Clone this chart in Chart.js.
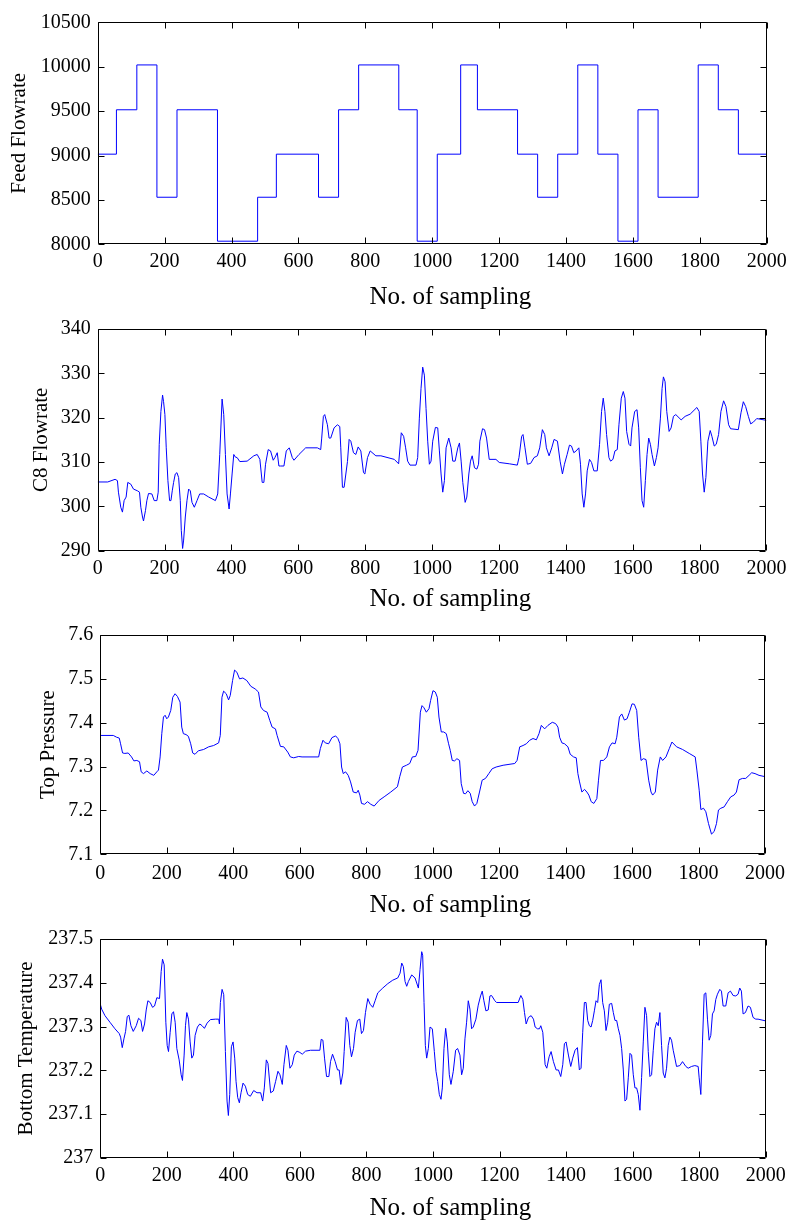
<!DOCTYPE html>
<html>
<head>
<meta charset="utf-8">
<script src="https://cdn.jsdelivr.net/npm/chart.js@4.4.0/dist/chart.umd.min.js"></script>
<style>
  body { margin: 0; background: #fff; }
  canvas { position: absolute; left: 0; }
</style>
</head>
<body>
<canvas id="feed" width="792" height="310" style="top:0px"></canvas>
<canvas id="c8" width="792" height="306" style="top:310px"></canvas>
<canvas id="pressure" width="792" height="304" style="top:616px"></canvas>
<canvas id="temp" width="792" height="301" style="top:920px"></canvas>
<script>
const sampleTicks = [0, 200, 400, 600, 800, 1000, 1200, 1400, 1600, 1800, 2000];
const feedTicks = [8000, 8500, 9000, 9500, 10000, 10500];
const c8Ticks = [290, 300, 310, 320, 330, 340];
const pressureTicks = [7.1, 7.2, 7.3, 7.4, 7.5, 7.6];
const tempTicks = [237, 237.1, 237.2, 237.3, 237.4, 237.5];

// feed flowrate is piecewise constant: sample where each level starts
const feedStart = [0, 56, 117, 177, 237, 358, 478, 534, 660, 720, 780, 900, 955, 1015, 1085, 1135, 1255, 1315, 1375, 1435, 1495, 1555, 1615, 1675, 1795, 1855, 1915];
const feedLevel = [9015, 9515, 10020, 8530, 9515, 8035, 8530, 9015, 8530, 9515, 10020, 9515, 8035, 9015, 10020, 9515, 9015, 8530, 9015, 10020, 9015, 8035, 9515, 8530, 10020, 9515, 9015];

const c8Flowrate = [[0,305.5],[30,305.5],[52,306.1],[59,305.8],[62,303.2],[69,299.8],[74,298.7],[79,301.3],[85,302.1],[90,305.4],[99,305.0],[107,303.9],[119,303.5],[125,303.2],[129,299.8],[134,297.6],[137,296.7],[143,299.1],[147,301.3],[152,302.9],[162,302.8],[169,301.3],[177,301.3],[181,303.2],[184,314.0],[189,321.4],[194,325.1],[197,323.6],[201,320.7],[205,313.2],[210,305.8],[215,301.3],[219,301.3],[223,303.5],[227,305.4],[232,307.3],[237,307.6],[242,306.5],[247,301.3],[250,294.6],[254,290.5],[257,292.4],[262,297.6],[267,301.3],[272,303.9],[277,303.5],[282,300.9],[289,299.8],[297,301.3],[305,302.8],[317,302.8],[332,302.1],[352,301.3],[359,302.8],[365,311.7],[372,324.2],[377,320.7],[382,311.7],[387,302.8],[393,299.4],[397,302.8],[402,307.3],[407,311.7],[412,311.1],[417,311.0],[425,310.1],[447,310.2],[467,311.4],[477,311.7],[485,310.6],[492,305.4],[497,305.4],[502,309.5],[510,312.8],[517,312.5],[525,310.4],[530,311.0],[537,312.1],[542,309.1],[547,309.1],[557,309.1],[564,312.5],[573,313.2],[582,311.0],[587,310.4],[602,311.7],[622,313.2],[657,313.2],[667,312.8],[670,315.4],[675,320.3],[679,320.7],[687,318.4],[692,315.4],[697,315.4],[707,317.7],[717,318.4],[724,318.0],[727,313.2],[732,304.3],[737,304.3],[747,310.1],[752,315.1],[757,314.7],[765,312.1],[772,311.7],[779,313.4],[787,312.5],[795,307.6],[799,307.3],[807,311.0],[815,312.5],[832,311.4],[847,311.4],[887,310.6],[900,309.6],[908,316.6],[915,315.8],[921,313.2],[927,310.2],[934,309.3],[952,309.3],[957,311.0],[962,319.9],[967,326.6],[972,331.4],[977,329.6],[982,322.1],[987,314.7],[992,309.5],[997,310.2],[1002,314.7],[1010,317.8],[1017,317.7],[1022,312.5],[1027,307.3],[1032,303.2],[1037,305.8],[1042,313.2],[1050,315.4],[1057,313.2],[1062,310.2],[1069,310.2],[1077,313.2],[1082,314.3],[1087,310.2],[1092,305.4],[1099,300.9],[1104,302.1],[1110,307.3],[1115,310.2],[1120,311.4],[1127,308.7],[1134,308.4],[1139,309.5],[1143,314.7],[1151,317.5],[1157,317.3],[1163,315.4],[1171,310.6],[1191,310.6],[1201,309.9],[1231,309.6],[1255,309.3],[1260,311.0],[1268,315.8],[1272,316.2],[1278,313.2],[1285,309.5],[1295,309.7],[1305,311.0],[1315,311.4],[1322,313.2],[1330,317.3],[1337,316.2],[1342,313.2],[1350,311.4],[1358,313.2],[1365,315.1],[1375,314.7],[1383,310.2],[1390,307.3],[1396,309.5],[1404,311.7],[1411,313.8],[1417,313.6],[1424,312.1],[1431,312.5],[1439,313.2],[1444,309.5],[1449,302.8],[1454,299.8],[1459,302.8],[1464,308.0],[1471,310.6],[1477,309.9],[1484,308.0],[1494,308.0],[1501,314.0],[1507,321.4],[1512,324.4],[1517,321.4],[1522,316.2],[1529,311.0],[1534,310.2],[1541,310.6],[1547,312.5],[1554,312.8],[1559,318.4],[1566,324.4],[1572,325.9],[1577,324.4],[1582,316.9],[1589,314.0],[1594,313.6],[1598,317.7],[1606,321.4],[1613,321.8],[1618,317.7],[1623,308.7],[1628,301.3],[1633,299.8],[1638,305.8],[1643,311.7],[1648,315.4],[1653,314.0],[1658,311.7],[1665,309.1],[1671,311.0],[1676,313.2],[1683,319.9],[1688,326.6],[1692,329.2],[1697,328.1],[1702,321.4],[1709,316.9],[1715,317.7],[1722,320.3],[1729,320.7],[1745,319.5],[1757,320.3],[1772,320.8],[1792,322.3],[1799,321.4],[1804,314.7],[1809,307.3],[1814,303.2],[1819,306.5],[1825,314.7],[1832,317.1],[1837,315.8],[1844,313.6],[1850,314.0],[1857,316.2],[1864,321.4],[1872,323.8],[1879,322.5],[1887,318.4],[1893,317.5],[1916,317.3],[1924,321.1],[1931,323.6],[1938,322.5],[1946,320.3],[1953,318.6],[1961,319.0],[1971,319.8],[2000,319.4]];

const topPressure = [[0,7.371],[39,7.371],[49,7.367],[57,7.365],[61,7.352],[67,7.331],[74,7.330],[84,7.331],[94,7.322],[101,7.313],[110,7.314],[118,7.311],[123,7.288],[130,7.284],[140,7.290],[150,7.284],[161,7.280],[170,7.288],[175,7.292],[180,7.322],[185,7.375],[190,7.413],[195,7.417],[200,7.409],[205,7.413],[212,7.428],[218,7.458],[225,7.466],[232,7.460],[240,7.447],[245,7.390],[250,7.375],[258,7.373],[265,7.369],[272,7.352],[278,7.331],[285,7.328],[295,7.336],[311,7.339],[326,7.345],[341,7.348],[356,7.354],[361,7.371],[366,7.458],[371,7.472],[379,7.466],[386,7.452],[391,7.462],[398,7.496],[404,7.520],[411,7.515],[419,7.500],[429,7.502],[441,7.496],[453,7.483],[466,7.477],[476,7.470],[483,7.436],[491,7.428],[502,7.424],[510,7.405],[517,7.390],[527,7.386],[532,7.371],[542,7.346],[552,7.345],[564,7.333],[572,7.322],[582,7.320],[597,7.323],[607,7.322],[657,7.322],[662,7.341],[670,7.360],[677,7.354],[687,7.352],[697,7.366],[708,7.370],[715,7.364],[721,7.352],[726,7.299],[731,7.284],[738,7.288],[746,7.280],[753,7.265],[761,7.242],[771,7.240],[776,7.246],[781,7.235],[786,7.216],[795,7.214],[804,7.220],[814,7.214],[824,7.210],[839,7.223],[854,7.231],[874,7.242],[894,7.254],[901,7.277],[909,7.299],[921,7.303],[931,7.307],[939,7.322],[949,7.323],[956,7.337],[963,7.424],[968,7.439],[974,7.434],[981,7.424],[989,7.432],[994,7.451],[1001,7.473],[1008,7.470],[1014,7.458],[1019,7.413],[1026,7.379],[1033,7.379],[1041,7.375],[1048,7.352],[1053,7.337],[1059,7.314],[1066,7.313],[1073,7.318],[1081,7.314],[1086,7.261],[1093,7.239],[1099,7.238],[1106,7.245],[1113,7.239],[1119,7.220],[1126,7.210],[1133,7.216],[1141,7.242],[1149,7.269],[1159,7.273],[1169,7.284],[1179,7.295],[1191,7.299],[1212,7.303],[1247,7.307],[1254,7.314],[1262,7.345],[1272,7.348],[1282,7.352],[1292,7.360],[1302,7.364],[1312,7.361],[1320,7.375],[1327,7.394],[1337,7.386],[1347,7.394],[1360,7.401],[1370,7.398],[1377,7.390],[1382,7.367],[1389,7.354],[1397,7.352],[1407,7.345],[1414,7.328],[1424,7.322],[1432,7.320],[1437,7.284],[1442,7.265],[1449,7.242],[1457,7.248],[1464,7.242],[1470,7.235],[1477,7.220],[1485,7.216],[1494,7.227],[1499,7.269],[1505,7.314],[1514,7.314],[1524,7.322],[1532,7.345],[1540,7.354],[1549,7.352],[1554,7.367],[1562,7.413],[1569,7.420],[1577,7.406],[1585,7.409],[1592,7.424],[1600,7.443],[1607,7.442],[1614,7.428],[1620,7.367],[1627,7.314],[1634,7.318],[1642,7.316],[1650,7.269],[1657,7.242],[1662,7.235],[1670,7.242],[1677,7.292],[1685,7.322],[1692,7.314],[1702,7.322],[1712,7.341],[1720,7.356],[1734,7.345],[1752,7.339],[1772,7.330],[1790,7.322],[1795,7.292],[1802,7.246],[1807,7.202],[1815,7.205],[1822,7.197],[1830,7.170],[1839,7.146],[1847,7.152],[1854,7.170],[1860,7.201],[1867,7.205],[1877,7.208],[1887,7.220],[1897,7.231],[1907,7.235],[1914,7.242],[1922,7.270],[1932,7.273],[1942,7.273],[1952,7.280],[1960,7.286],[1970,7.284],[1982,7.280],[2000,7.277]];

const bottomTemp = [[0,237.351],[4,237.340],[14,237.325],[29,237.310],[44,237.295],[57,237.284],[61,237.276],[66,237.252],[71,237.272],[76,237.289],[81,237.323],[86,237.326],[92,237.302],[99,237.289],[108,237.302],[115,237.319],[122,237.314],[127,237.289],[133,237.306],[138,237.338],[143,237.359],[150,237.355],[157,237.344],[163,237.347],[170,237.366],[178,237.364],[183,237.426],[187,237.454],[192,237.441],[197,237.310],[201,237.257],[205,237.243],[210,237.287],[215,237.329],[220,237.334],[225,237.310],[230,237.250],[237,237.224],[243,237.190],[247,237.177],[252,237.235],[256,237.302],[260,237.332],[265,237.317],[270,237.265],[275,237.228],[280,237.235],[285,237.280],[292,237.299],[299,237.306],[306,237.302],[313,237.296],[321,237.308],[331,237.316],[346,237.317],[356,237.317],[358,237.306],[361,237.355],[366,237.385],[371,237.373],[376,237.243],[381,237.130],[385,237.097],[389,237.145],[394,237.254],[399,237.265],[404,237.228],[408,237.175],[413,237.138],[418,237.126],[423,237.149],[429,237.171],[436,237.164],[443,237.145],[451,237.141],[461,237.154],[471,237.149],[482,237.149],[488,237.130],[493,237.160],[499,237.224],[504,237.216],[512,237.149],[520,237.153],[527,237.175],[534,237.198],[540,237.190],[547,237.168],[552,237.213],[559,237.257],[564,237.246],[570,237.205],[577,237.213],[583,237.235],[591,237.244],[600,237.241],[607,237.237],[617,237.244],[632,237.246],[660,237.246],[664,237.271],[669,237.269],[674,237.228],[680,237.186],[687,237.186],[692,237.220],[698,237.237],[706,237.220],[713,237.201],[718,237.201],[723,237.168],[729,237.194],[733,237.243],[739,237.321],[745,237.310],[750,237.257],[755,237.231],[761,237.250],[766,237.287],[773,237.314],[780,237.317],[785,237.284],[791,237.291],[797,237.332],[804,237.364],[811,237.351],[819,237.344],[826,237.359],[834,237.377],[849,237.388],[864,237.398],[879,237.406],[894,237.411],[901,237.422],[906,237.445],[911,237.437],[916,237.403],[921,237.392],[926,237.403],[936,237.418],[946,237.411],[956,237.388],[961,237.430],[966,237.471],[969,237.463],[973,237.355],[977,237.257],[981,237.228],[986,237.250],[991,237.299],[998,237.295],[1004,237.243],[1009,237.198],[1014,237.175],[1019,237.145],[1024,237.134],[1028,237.160],[1033,237.250],[1038,237.296],[1043,237.265],[1049,237.190],[1054,237.168],[1061,237.198],[1068,237.246],[1074,237.250],[1081,237.235],[1086,237.190],[1091,237.205],[1096,237.272],[1101,237.310],[1106,237.359],[1111,237.340],[1116,237.295],[1121,237.299],[1129,237.317],[1136,237.349],[1143,237.370],[1148,237.381],[1153,237.359],[1159,237.336],[1166,237.338],[1171,237.370],[1176,237.371],[1186,237.359],[1191,237.355],[1256,237.355],[1264,237.371],[1270,237.362],[1275,237.332],[1280,237.306],[1287,237.321],[1295,237.325],[1302,237.317],[1307,237.299],[1314,237.295],[1320,237.295],[1324,237.302],[1330,237.287],[1337,237.213],[1342,237.205],[1349,237.231],[1355,237.243],[1362,237.220],[1370,237.201],[1377,237.201],[1384,237.186],[1390,237.213],[1395,237.261],[1400,237.265],[1407,237.235],[1414,237.209],[1420,237.228],[1427,237.246],[1434,237.252],[1440,237.201],[1445,237.205],[1450,237.287],[1455,237.355],[1460,237.355],[1465,237.314],[1470,237.302],[1475,237.299],[1480,237.314],[1485,237.336],[1490,237.359],[1495,237.355],[1500,237.396],[1505,237.407],[1510,237.355],[1515,237.336],[1520,237.291],[1525,237.310],[1530,237.351],[1537,237.353],[1542,237.332],[1547,237.314],[1552,237.314],[1557,237.295],[1562,237.280],[1567,237.250],[1572,237.201],[1577,237.130],[1582,237.134],[1587,237.183],[1592,237.239],[1597,237.235],[1602,237.190],[1607,237.160],[1612,237.160],[1617,237.145],[1622,237.109],[1627,237.184],[1632,237.265],[1637,237.344],[1642,237.325],[1647,237.243],[1652,237.186],[1657,237.190],[1662,237.246],[1667,237.295],[1672,237.310],[1677,237.302],[1682,237.332],[1687,237.257],[1692,237.194],[1697,237.183],[1702,237.205],[1707,237.257],[1712,237.276],[1717,237.269],[1722,237.246],[1727,237.228],[1732,237.209],[1742,237.211],[1750,237.220],[1760,237.209],[1767,237.205],[1777,237.209],[1787,237.211],[1797,237.209],[1800,237.183],[1805,237.145],[1810,237.265],[1815,237.374],[1820,237.377],[1825,237.317],[1830,237.269],[1835,237.280],[1840,237.329],[1845,237.336],[1850,237.362],[1855,237.374],[1862,237.385],[1867,237.381],[1872,237.347],[1880,237.347],[1887,237.377],[1894,237.381],[1902,237.371],[1910,237.370],[1917,237.374],[1922,237.388],[1927,237.381],[1932,237.329],[1939,237.332],[1947,237.347],[1954,237.344],[1962,237.321],[1970,237.317],[1977,237.317],[2000,237.313]];

Chart.defaults.font.family = '"Liberation Serif", "Times New Roman", serif';
Chart.defaults.color = '#000';

// matlab style box with inward ticks on all four sides, plus the x label
const matlabBox = {
  id: 'matlabBox',
  afterDraw(chart, args, opts) {
    const { ctx, chartArea: a, scales: { x, y } } = chart;
    const L = Math.round(a.left) + 0.5, R = Math.round(a.right) - 0.5;
    const T = Math.round(a.top) + 0.5, B = Math.round(a.bottom) - 0.5;
    ctx.save();
    ctx.strokeStyle = '#000';
    ctx.lineWidth = 1;
    ctx.beginPath();
    x.ticks.forEach((t) => {
      const px = Math.round(x.getPixelForValue(t.value)) + 0.5;
      ctx.moveTo(px, B); ctx.lineTo(px, B - 6);
      ctx.moveTo(px, T); ctx.lineTo(px, T + 6);
    });
    y.ticks.forEach((t) => {
      const py = Math.round(y.getPixelForValue(t.value)) + 0.5;
      ctx.moveTo(L, py); ctx.lineTo(L + 6, py);
      ctx.moveTo(R, py); ctx.lineTo(R - 6, py);
    });
    ctx.rect(L, T, R - L, B - T);
    ctx.stroke();
    ctx.fillStyle = '#000';
    ctx.font = '25px "Liberation Serif"';
    ctx.textAlign = 'center';
    ctx.textBaseline = 'alphabetic';
    ctx.fillText(opts.text, opts.x, opts.y);
    ctx.restore();
  },
};

function makePanel(id, p) {
  const canvas = document.getElementById(id);
  const h = canvas.height;
  return new Chart(canvas, {
    type: 'line',
    data: {
      datasets: [{
        data: p.points,
        borderColor: '#0000ff',
        borderWidth: 1,
        pointRadius: 0,
        fill: false,
        tension: 0,
        stepped: p.stepped || false,
      }],
    },
    options: {
      responsive: false,
      animation: false,
      layout: { padding: { top: p.area[1], right: 792 - p.area[2], left: 0, bottom: 0 } },
      plugins: {
        legend: { display: false },
        tooltip: { enabled: false },
        matlabBox: { text: 'No. of sampling', x: 450.3, y: p.xTitleY },
      },
      scales: {
        x: {
          type: 'linear',
          min: 0,
          max: 2000,
          afterBuildTicks: (s) => { s.ticks = sampleTicks.map((v) => ({ value: v })); },
          afterFit: (s) => { s.height = h - p.area[3]; },
          grid: { display: false, drawTicks: false },
          border: { display: false },
          ticks: { autoSkip: false, maxRotation: 0, padding: p.xTickPad, font: { size: 20 }, callback: (v) => String(v) },
        },
        y: {
          type: 'linear',
          min: p.ticks[0],
          max: p.ticks[p.ticks.length - 1],
          afterBuildTicks: (s) => { s.ticks = p.ticks.map((v) => ({ value: v })); },
          afterFit: (s) => { s.width = p.area[0]; },
          grid: { display: false, drawTicks: false },
          border: { display: false },
          ticks: { autoSkip: false, padding: 7, font: { size: 20 }, callback: (v) => String(v) },
          title: { display: true, text: p.yTitle, font: { size: 21 }, padding: { top: p.yTitlePad, bottom: 0 } },
        },
      },
    },
    plugins: [matlabBox],
  });
}

const feedPoints = feedStart.map((s, i) => ({ x: s, y: feedLevel[i] }));
feedPoints.push({ x: 2000, y: feedLevel[feedLevel.length - 1] });
const toXY = (arr) => arr.map((d) => ({ x: d[0], y: d[1] }));

makePanel('feed', { points: feedPoints, stepped: true, ticks: feedTicks, yTitle: 'Feed Flowrate', area: [97.7, 22.3, 768.3, 244.3], xTickPad: 5.2, yTitlePad: 7, xTitleY: 304 });
makePanel('c8', { points: toXY(c8Flowrate), ticks: c8Ticks, yTitle: 'C8 Flowrate', area: [97.7, 16.7, 768.3, 240.7], xTickPad: 5.6, yTitlePad: 28.6, xTitleY: 296 });
makePanel('pressure', { points: toXY(topPressure), ticks: pressureTicks, yTitle: 'Top Pressure', area: [100.3, 18.3, 765.7, 238.3], xTickPad: 7, yTitlePad: 35.8, xTitleY: 295.7 });
makePanel('temp', { points: toXY(bottomTemp), ticks: tempTicks, yTitle: 'Bottom Temperature', area: [100.3, 15.3, 765.7, 238], xTickPad: 6, yTitlePad: 14.3, xTitleY: 295 });
</script>
</body>
</html>
